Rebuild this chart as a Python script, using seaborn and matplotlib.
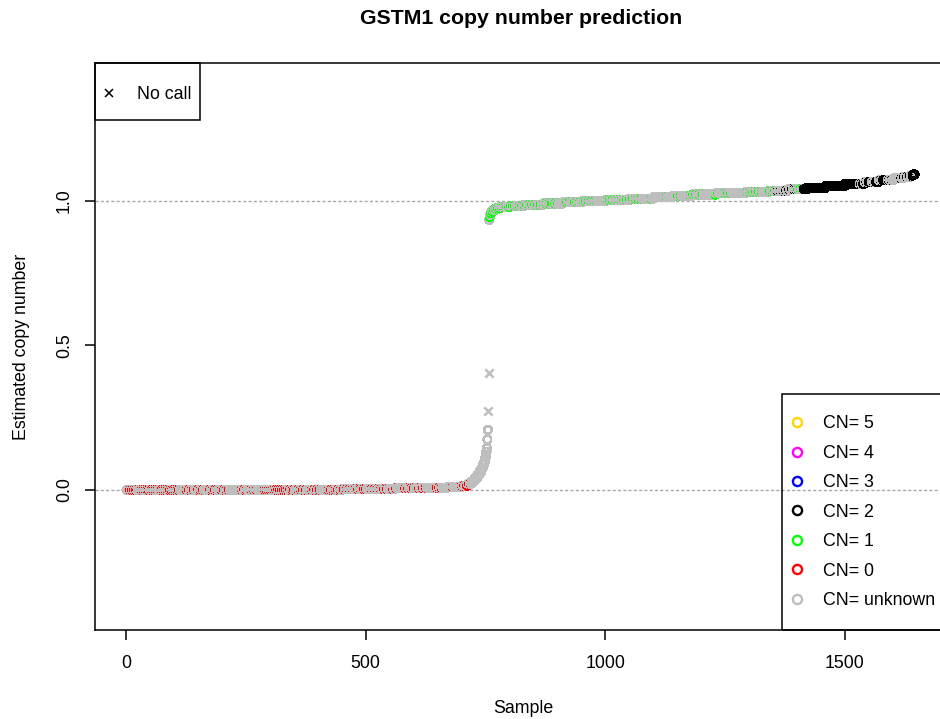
import numpy as np
import pandas as pd
import matplotlib
matplotlib.use("Agg")
import matplotlib.pyplot as plt
import seaborn as sns
from matplotlib.lines import Line2D
from matplotlib.patches import Rectangle

# ==========================================
# DATA
# ==========================================

# sorted copy number estimates, as runs: (number of samples, value)
level_counts = [120, 330, 110, 60, 50, 30, 12, 8, 6, 6, 5, 4, 3, 3, 2,
                1, 1, 1, 1, 1, 1, 1, 1,
                1, 1, 1, 2, 3, 5, 10, 20, 30, 40, 40, 40, 50, 50, 50,
                40, 40, 50, 60, 50, 40, 40, 40, 40, 40, 30, 30, 20, 15, 7, 3]
level_values = [0.000, 0.001, 0.003, 0.006, 0.008, 0.011, 0.015, 0.022,
                0.030, 0.040, 0.052, 0.064, 0.076, 0.088, 0.100,
                0.112, 0.122, 0.132, 0.145, 0.175, 0.208, 0.274, 0.404,
                0.934, 0.945, 0.952, 0.958, 0.963, 0.968, 0.974, 0.979,
                0.983, 0.987, 0.991, 0.995, 0.999, 1.003, 1.008,
                1.013, 1.018, 1.022, 1.026, 1.030, 1.035, 1.040, 1.046,
                1.052, 1.059, 1.066, 1.072, 1.078, 1.083, 1.088, 1.092]

# samples called CN=0
cn0_samples = [9, 13, 17, 21, 24, 33, 37, 41, 45, 48, 54, 58, 62, 66,
               75, 79, 83, 87, 92, 96, 100, 104, 108, 111, 127, 132, 137,
               142, 151, 156, 161, 176, 181, 186, 191, 200, 205, 210, 215,
               242, 247, 252, 262, 267, 273, 290, 294, 298, 302, 306, 310,
               314, 318, 322, 326, 330, 334, 338, 343, 348, 351, 360, 365,
               370, 376, 388, 393, 399, 405, 423, 428, 433, 438, 443, 448,
               455, 461, 467, 473, 479, 485, 490, 497, 501, 513, 519, 525,
               532, 539, 545, 558, 564, 583, 589, 596, 601, 612, 620, 626,
               649, 654, 659, 682, 701, 706, 712, 716, 719]

# samples called CN=1
cn1_samples = [759, 762, 765, 768, 771, 774, 777, 780, 784, 788, 792, 796,
               800, 804, 808, 812, 817, 822, 827, 832, 837, 842, 848, 854,
               860, 866, 872, 878, 884, 889, 891, 896, 902, 921, 926, 937,
               942, 947, 955, 960, 966, 972, 978, 982, 1005, 1010, 1016,
               1022, 1028, 1034, 1040, 1046, 1052, 1058, 1064, 1070, 1076,
               1097, 1128, 1152, 1158, 1178, 1184, 1190, 1197, 1204, 1230,
               1236, 1251, 1257, 1263, 1297, 1303, 1309, 1315, 1321, 1327,
               1344, 1349, 1355, 1403, 1408, 1412]

# samples called CN=2, as (first, last) runs
cn2_runs = [(1360, 1360), (1366, 1366), (1372, 1372), (1378, 1378),
            (1384, 1384), (1390, 1390), (1395, 1395), (1399, 1399),
            (1414, 1530), (1534, 1534), (1538, 1540), (1545, 1545),
            (1550, 1555), (1560, 1560), (1565, 1570), (1575, 1575),
            (1580, 1588), (1592, 1592), (1598, 1598), (1618, 1618),
            (1624, 1624), (1630, 1630), (1636, 1636), (1641, 1645)]

# samples with no call
nocall_samples = [756, 757]

legend_labels = ["CN= 5", "CN= 4", "CN= 3", "CN= 2", "CN= 1", "CN= 0",
                 "CN= unknown"]
legend_keys = ["5", "4", "3", "2", "1", "0", "unknown"]

cn_colors = {
    "5": "#FFD700",
    "4": "#FF00FF",
    "3": "#0000FF",
    "2": "#000000",
    "1": "#00FF00",
    "0": "#FF0000",
    "unknown": "#BEBEBE",
}

# ==========================================
# BUILD TABLE
# ==========================================

values = np.repeat(level_values, level_counts)
n = len(values)

calls = np.full(n, "unknown", dtype=object)
calls[np.array(cn0_samples) - 1] = "0"
calls[np.array(cn1_samples) - 1] = "1"
for a, b in cn2_runs:
    calls[a - 1:b] = "2"
calls[np.array(nocall_samples) - 1] = "nocall"

df = pd.DataFrame({
    "Sample": np.arange(1, n + 1),
    "CN": values,
    "Call": calls,
})

# ==========================================
# PLOT
# ==========================================

sns.set_style("white")
plt.rcParams["font.family"] = ["Liberation Sans", "DejaVu Sans"]
plt.rcParams["text.color"] = "black"
plt.rcParams["axes.labelcolor"] = "black"
plt.rcParams["xtick.color"] = "black"
plt.rcParams["ytick.color"] = "black"

fs = 12.8

fig = plt.figure(figsize=(9.4, 7.19), dpi=100)
ax = fig.add_axes([95 / 940, 1 - 630 / 719, 851 / 940, 567 / 719])

ax.axhline(0, color="#A8A8A8", lw=1.0, ls=(0, (2.2, 1.6)), zorder=1)
ax.axhline(1, color="#A8A8A8", lw=1.0, ls=(0, (2.2, 1.6)), zorder=1)

circles = df[df["Call"] != "nocall"]
sns.scatterplot(
    data=circles,
    x="Sample",
    y="CN",
    hue="Call",
    palette=cn_colors,
    s=30,
    linewidth=1.1,
    legend=False,
    ax=ax,
    zorder=2
)
coll = ax.collections[-1]
fc = coll.get_facecolors()
coll.set_facecolors("none")
coll.set_edgecolors(fc)
coll.set_linewidths(1.1)
coll.set_antialiased(False)

sns.scatterplot(
    data=df[df["Call"] == "nocall"],
    x="Sample",
    y="CN",
    marker="x",
    color="#BEBEBE",
    s=36,
    linewidth=1.8,
    legend=False,
    ax=ax,
    zorder=3
)

ax.set_xlim(1 - 0.04 * (n - 1), n + 0.04 * (n - 1))
ax.set_ylim(-0.484, 1.477)

ax.set_xticks([0, 500, 1000, 1500])
ax.set_xticklabels(["0", "500", "1000", "1500"])
ax.set_yticks([0.0, 0.5, 1.0])
ax.set_yticklabels(["0.0", "0.5", "1.0"])

ax.tick_params(axis="both", which="major", direction="out", length=7,
               width=1.1, color="black", labelcolor="black", labelsize=fs,
               bottom=True, left=True)
ax.tick_params(axis="x", pad=11)
ax.tick_params(axis="y", pad=9)
for lbl in ax.get_yticklabels():
    lbl.set_rotation(90)
    lbl.set_va("center")

for sp in ax.spines.values():
    sp.set_color("black")
    sp.set_linewidth(1.1)
    sp.set_visible(True)

ax.set_xlabel("Sample", fontsize=fs, color="black")
ax.xaxis.set_label_coords(0.5035, -0.1376)
ax.xaxis.label.set_va("center")
ax.set_ylabel("Estimated copy number", fontsize=fs, color="black")
ax.yaxis.set_label_coords(-0.0858, 0.499)
ax.yaxis.label.set_va("center")

fig.text(521 / 940, 1 - 18 / 719, "GSTM1 copy number prediction",
         ha="center", va="center", fontsize=15.3, fontweight="bold",
         color="black")

# ==========================================
# LEGENDS
# ==========================================

ax.add_patch(Rectangle((0, (630 - 120) / 567), 105 / 851, (120 - 63) / 567,
                       transform=ax.transAxes, fill=False, ec="black",
                       lw=1.1, zorder=5, clip_on=False))
nocall_handle = [Line2D([], [], ls="none", marker="x", color="black",
                        markersize=6, mew=1.1)]
leg1 = ax.legend(nocall_handle, ["No call"], loc="center left",
                 bbox_to_anchor=((100.5 - 95) / 851, (630 - 94.3) / 567),
                 frameon=False, fontsize=fs, handlelength=1.0,
                 handletextpad=1.08, borderpad=0, borderaxespad=0,
                 labelcolor="black")
ax.add_artist(leg1)

ax.add_patch(Rectangle(((781.6 - 95) / 851, 0), (946 - 781.6) / 851,
                       (630 - 394) / 567, transform=ax.transAxes,
                       fill=False, ec="black", lw=1.1, zorder=5,
                       clip_on=False))
cn_handles = [
    Line2D([], [], ls="none", marker="o", markerfacecolor="none",
           markeredgecolor=cn_colors[k], markersize=6.6, mew=1.7)
    for k in legend_keys
]
ax.legend(cn_handles, legend_labels, loc="center left",
          bbox_to_anchor=((788.2 - 95) / 851, (630 - 512.2) / 567),
          frameon=False, fontsize=fs, handlelength=1.0,
          handletextpad=0.97, labelspacing=0.7, borderpad=0,
          borderaxespad=0, labelcolor="black")

fig.savefig("out.png", dpi=100)
